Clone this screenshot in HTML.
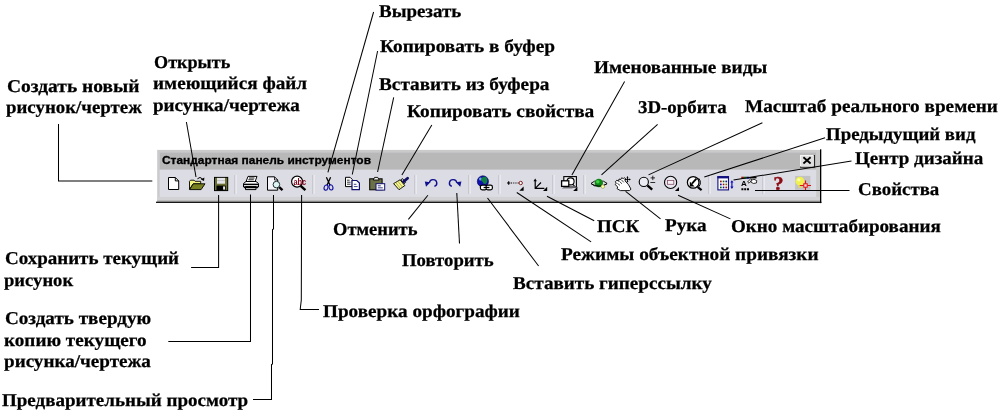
<!DOCTYPE html>
<html lang="ru">
<head>
<meta charset="utf-8">
<title>Стандартная панель инструментов</title>
<style>
html,body{margin:0;padding:0;background:#fff;}
body{width:1002px;height:415px;position:relative;overflow:hidden;}
#wrap{position:absolute;left:0;top:0;width:1002px;height:415px;will-change:transform;}
.l{position:absolute;font-family:"Liberation Serif",serif;font-weight:bold;font-size:18.0px;line-height:21.0px;color:#000;white-space:nowrap;margin:0;transform-origin:0 0;text-rendering:geometricPrecision;-webkit-text-stroke:0.25px #000;}
svg{position:absolute;left:0;top:0;overflow:visible;}
svg text{white-space:pre;}

</style>
</head>
<body>
<div id="wrap">
<svg id="tb" width="1002" height="415" viewBox="0 0 1002 415">
<!-- frame -->
<rect x="157.2" y="149.9" width="663.3" height="52.3" fill="#cacaca"/>
<rect x="159.6" y="152.4" width="656.6" height="47.2" fill="#dcdce4"/>
<rect x="157.2" y="196.8" width="663.3" height="3.6" fill="#d2d2d4"/>
<rect x="157.2" y="200.2" width="663.3" height="1.6" fill="#b8b8b8"/>
<rect x="156" y="201.7" width="665.4" height="1.2" fill="#000"/>
<rect x="820" y="149.3" width="1.3" height="53.8" fill="#000"/>
<!-- title bar -->
<rect x="159.6" y="152.4" width="656.6" height="17.2" fill="#b8b8b8"/>
<text x="162" y="164" font-family="'Liberation Sans',sans-serif" font-weight="bold" font-size="11.3" fill="#000" stroke="#000" stroke-width="0.3" textLength="209" lengthAdjust="spacingAndGlyphs">Стандартная панель инструментов</text>
<!-- close button -->
<rect x="800" y="155" width="14.8" height="12.6" fill="#000"/>
<rect x="800" y="155" width="13.8" height="11.6" fill="#f4f4f4"/>
<rect x="801" y="156" width="12.8" height="10.6" fill="#e0e0e0"/>
<path d="M803.4,157.3l7.2,6.2 M810.6,157.3l-7.2,6.2" stroke="#000" stroke-width="1.8" fill="none"/>
<!-- separators -->
<g stroke-width="1" fill="none">
<path d="M235,175v19 M313,175v19 M415,175v19 M469,175v19 M499,175v19 M553,175v19 M584,175v19 M709,175v19 M763,175v19" stroke="#b4b4bc"/>
<path d="M236,175v19 M314,175v19 M416,175v19 M470,175v19 M500,175v19 M554,175v19 M585,175v19 M710,175v19 M764,175v19" stroke="#f6f6fa"/>
</g>
<!-- 1 new -->
<g stroke="#000" stroke-width="1" fill="#fff">
<path d="M168.5,177.5h6.8l3.4,3.4v8.6h-10.2z"/>
<path d="M175.3,177.5v3.4h3.4" fill="none"/>
</g>
<!-- 2 open -->
<g stroke="#000" stroke-width="0.9">
<path d="M189.5,189.3v-8l1,-1.1h3.6l1,1.1h5.6v2.6h-7.6z" fill="#f4f480"/>
<path d="M189.6,189.6l3.7,-5.8h11.7l-3.9,5.8z" fill="#788020"/>
<path d="M197.4,178.8q2.6,-2.8 5.2,0.2" fill="none" stroke-width="1"/>
<path d="M204.4,177.6l-0.4,3.4l-3.2,-1.4z" fill="#000" stroke="none"/>
</g>
<!-- 3 save -->
<g>
<rect x="214.5" y="177.4" width="13.2" height="13.2" fill="#6c7030" stroke="#000" stroke-width="1"/>
<rect x="217" y="177.9" width="8" height="5.8" fill="#e4e4ea"/>
<path d="M217,180.6h8" stroke="#b8b8c0" stroke-width="0.8"/>
<rect x="216.5" y="185.6" width="9.2" height="5" fill="#000"/>
<rect x="223.1" y="186.4" width="1.9" height="3.2" fill="#e8e8e8"/>
</g>
<!-- 4 print -->
<g stroke="#000" stroke-width="1">
<path d="M246,181.8l2,-5.4h9l-2,5.4z" fill="#fff"/>
<path d="M249,178h5.5 M248.3,179.8h5.5" stroke-width="0.9"/>
<path d="M243.5,187v-3.5l2.5,-2h10l2.5,2v3.5z" fill="#fff"/>
<path d="M243.5,184.4h14.5" stroke-width="1.5"/>
<path d="M245.5,186.6h10.5v3h-10.5z" fill="#e0e0e0"/>
<path d="M244,187.4h14" stroke-width="1.5"/>
</g>
<!-- 5 preview -->
<g stroke="#000" stroke-width="1">
<path d="M267.5,176.8h7l3.2,3.2v10.2h-10.2z" fill="#f4f4fa"/>
<path d="M274.5,176.8v3.2h3.2" fill="none" stroke-width="0.8"/>
<circle cx="276.4" cy="184.6" r="3.3" fill="#dcf4f4" stroke="#203030"/>
<path d="M279.2,187.2l3.3,3" stroke-width="2.4"/>
</g>
<!-- 6 spell -->
<g>
<circle cx="297.1" cy="181.6" r="5.5" fill="#fff" stroke="#000" stroke-width="1.2"/>
<text x="293.4" y="184.5" font-family="'Liberation Sans',sans-serif" font-weight="bold" font-size="8.6" fill="#800018" textLength="12.8" lengthAdjust="spacingAndGlyphs">abc</text>
<path d="M300.6,185.8l4.8,4.4" stroke="#000" stroke-width="2.5" fill="none"/>
</g>
<!-- 7 cut -->
<g fill="none">
<path d="M326.4,177.3l3.6,8 M330.6,177.3l-3.6,8" stroke="#000" stroke-width="1.3"/>
<ellipse cx="326" cy="187.6" rx="1.9" ry="2.6" stroke="#1010a0" stroke-width="1.1" transform="rotate(15 326 187.6)"/>
<ellipse cx="331" cy="187.4" rx="1.9" ry="2.6" stroke="#1010a0" stroke-width="1.1" transform="rotate(-15 331 187.4)"/>
</g>
<!-- 8 copy -->
<g stroke-width="1">
<path d="M345.5,177.3h4.6l2.2,2.2v7.1h-6.8z" fill="#fff" stroke="#000"/>
<path d="M347,180.2h2.6 M347,182.2h3.6 M347,184.2h3.6" stroke="#000" stroke-width="0.8"/>
<path d="M352,180.5h4.8l2.6,2.6v6.6h-7.4z" fill="#fff" stroke="#101070" stroke-width="1.2"/>
<path d="M353.8,184.3h2.6 M353.8,186.6h3.8" stroke="#101070" stroke-width="0.8"/>
</g>
<!-- 9 paste -->
<g stroke-width="1">
<rect x="369.7" y="178.8" width="12.4" height="11" fill="#6c7046" stroke="#000"/>
<path d="M373.2,180l1.4,-2.6h3.2l1.4,2.6z" fill="#f0f0f0" stroke="#000" stroke-width="0.9"/>
<rect x="376" y="183.7" width="8.7" height="6.4" fill="#fff" stroke="#101070"/>
<path d="M377.8,185.8h3 M377.8,187.8h5" stroke="#101070" stroke-width="0.8"/>
</g>
<!-- 10 match properties brush -->
<g stroke="#000" stroke-width="0.9">
<path d="M393.6,183.6l6.5,-3.8l4.7,5.8l-5.8,4.1z" fill="#f4f490"/>
<path d="M395.8,182.6l4.6,5.8 M397.9,181.3l4.6,5.8" stroke="#a0a040" fill="none" stroke-width="0.8"/>
<path d="M400.8,179.8l1.8,-1.2l3,3.6l-1.4,1.6z" fill="#d0d0d0"/>
<path d="M403.6,181.6l4,-3.4" stroke="#101060" stroke-width="2.8" stroke-linecap="round"/>
</g>
<!-- 11 undo -->
<g>
<path d="M429.4,182.8a3.7,3.5 0 1 1 5,3.6" fill="none" stroke="#101090" stroke-width="1.4"/>
<path d="M424.8,181.4l5.6,0.8l-4.4,4.6z" fill="#101090"/>
</g>
<!-- 12 redo -->
<g>
<path d="M456.8,182.8a3.7,3.5 0 1 0 -5,3.6" fill="none" stroke="#101090" stroke-width="1.4"/>
<path d="M461.4,181.4l-5.6,0.8l4.4,4.6z" fill="#101090"/>
</g>
<!-- 13 hyperlink -->
<g>
<circle cx="482.9" cy="181.4" r="5.6" fill="#1010b0" stroke="#000050" stroke-width="0.6"/>
<circle cx="480.6" cy="179" r="1.6" fill="#70a0f0"/>
<path d="M481.5,178q2.5,-2.2 5,-0.6q1.6,2.4 0.4,5q-1.4,2.4 -3.4,1.2q-0.6,-2 -2,-2.6q-0.8,-1.6 0,-3z" fill="#108040"/>
<rect x="480.4" y="185.2" width="6.4" height="4.6" rx="1.8" fill="#fff" stroke="#000" stroke-width="1.2"/>
<rect x="486" y="185.2" width="6.4" height="4.6" rx="1.8" fill="#fff" stroke="#000" stroke-width="1.2"/>
<path d="M483.6,187.5h5.8" stroke="#000" stroke-width="1.3"/>
</g>
<!-- 14 osnap -->
<g>
<path d="M507,183h3.4 M508.7,181.3v3.4" stroke="#000" stroke-width="1.1"/>
<path d="M511,183h8" stroke="#000" stroke-width="1.2" stroke-dasharray="1.1 1.1"/>
<circle cx="520.7" cy="183" r="1.7" fill="#fff" stroke="#802020" stroke-width="1"/>
<path d="M523.6,186.6v4.2h-4.3z" fill="#000"/>
</g>
<!-- 15 ucs -->
<g stroke="#000" fill="none" stroke-width="1.2">
<path d="M535.2,180v8.3h9.2 M535.2,188.3l5.8,-5.8"/>
<path d="M533.5,181.2l1.7,-2.8l1.7,2.8z" fill="#000" stroke="none"/>
<path d="M547.2,186.8v4.1h-4.2z" fill="#000" stroke="none"/>
</g>
<!-- 16 named views -->
<g stroke="#000" stroke-width="1.1">
<rect x="563.8" y="176.6" width="12.6" height="10.4" fill="#f0f0f4"/>
<circle cx="570.6" cy="181.4" r="3.5" fill="#fff"/>
<rect x="561.6" y="180.8" width="7.2" height="5.6" fill="#fff" stroke-width="1.3"/>
<path d="M572.5,184.3l2,1.6" stroke-width="1.2"/>
<path d="M562,188.4h10.5" stroke="#a8a8b0"/>
<path d="M577.4,186.8v4.1h-4.2z" fill="#000" stroke="none"/>
</g>
<!-- 17 3d orbit -->
<g>
<path d="M591,183.4l3.5,-2.2h9l3.6,2.2l-3.6,2.4h-9z" fill="none" stroke="#000" stroke-width="0.9"/>
<circle cx="598.8" cy="183" r="4.2" fill="#108818"/>
<circle cx="597.8" cy="181.8" r="1.8" fill="#40d040"/>
<path d="M591.4,184q7.5,4.2 15.4,0" fill="none" stroke="#000" stroke-width="0.9"/>
<circle cx="602.8" cy="186.6" r="1.8" fill="#ffffa0" stroke="#808040" stroke-width="0.5"/>
</g>
<!-- 18 pan -->
<g stroke="#000" stroke-width="0.9">
<path d="M615.4,181.8l1.4,-1.6l1.8,1l0.4,-2.2l1.8,0.6l0.8,-1.8l1.8,0.8l1,-1l1.4,1.6l-0.8,1.6l3.6,4l2.4,4.4l-1.6,1.4h-9l-3.4,-2l0.8,-1.6l-2.6,-2.4l1,-1.4z" fill="#fff"/>
<path d="M617.4,183.4l2.6,2 M619.4,181.4l2.6,2.4 M621.6,180l2.2,2.4" fill="none" stroke-width="0.7"/>
<path d="M627.5,176.6v5.6 M624.7,179.4h5.6" stroke-width="0.9"/>
<path d="M626.5,177.9l1,-1.7l1,1.7z M626.5,180.9l1,1.7l1,-1.7z M626,178.4l-1.7,1l1.7,1z M629,178.4l1.7,1l-1.7,1z" fill="#000" stroke="none"/>
</g>
<!-- 19 zoom realtime -->
<g stroke="#000" fill="none">
<circle cx="643.8" cy="181.9" r="4.6" fill="#ecedf4" stroke-width="1.1"/>
<path d="M647.4,185.4l4.8,4.2" stroke-width="2.4"/>
<path d="M650.6,177.9h4.4 M652.8,175.7v4.4 M650.4,182.5h4.8" stroke-width="0.8"/>
</g>
<!-- 20 zoom window -->
<g stroke="#000" fill="none" stroke-width="1.1">
<circle cx="670.6" cy="182.4" r="6.1" fill="#e8e8f0"/>
<rect x="667.4" y="180.5" width="6.4" height="3.8" fill="#f4f0f4" stroke="#885068" stroke-width="0.8"/>
<path d="M679,186.9v4h-4.1z" fill="#000" stroke="none"/>
</g>
<!-- 21 zoom previous -->
<g stroke="#000" fill="none">
<circle cx="693.2" cy="182.4" r="5.8" stroke-width="1.25" fill="#fff"/>
<path d="M698.6,178.2q3.6,4.2 0.2,8.6" stroke-width="1"/>
<path d="M696.4,178.6l-4.4,5" stroke-width="1.8"/>
<path d="M689.8,181.6v5h4.8z" fill="#000" stroke="none"/>
<path d="M697.6,187l4,3.2" stroke-width="2.2"/>
</g>
<!-- 22 design center -->
<g>
<rect x="717.9" y="176.7" width="10.6" height="13.2" fill="#fff" stroke="#101080" stroke-width="1.1"/>
<rect x="717.4" y="176.2" width="11.6" height="2.2" fill="#101080"/>
<g>
<rect x="720" y="180.6" width="1.7" height="1.7" fill="#a01010"/><rect x="722.7" y="180.6" width="1.7" height="1.7" fill="#106010"/><rect x="725.4" y="180.6" width="1.7" height="1.7" fill="#1010a0"/>
<rect x="720" y="183.6" width="1.7" height="1.7" fill="#1010a0"/><rect x="722.7" y="183.6" width="1.7" height="1.7" fill="#a01010"/><rect x="725.4" y="183.6" width="1.7" height="1.7" fill="#707010"/>
<rect x="720" y="186.6" width="1.7" height="1.7" fill="#106010"/><rect x="722.7" y="186.6" width="1.7" height="1.7" fill="#1010a0"/><rect x="725.4" y="186.6" width="1.7" height="1.7" fill="#a01010"/>
</g>
<path d="M731.9,181.4v6.4" stroke="#1010c0" stroke-width="1.2"/>
<path d="M730.3,182.6l1.6,-2.4l1.6,2.4z M730.3,186.6l1.6,2.4l1.6,-2.4z" fill="#1010c0"/>
</g>
<!-- 23 properties -->
<g>
<rect x="741.3" y="176.7" width="2.6" height="2.1" fill="#a01010"/><rect x="743.9" y="176.7" width="2.6" height="2.1" fill="#108010"/><rect x="746.5" y="176.7" width="2.6" height="2.1" fill="#1010a0"/>
<rect x="749.1" y="177" width="7.4" height="1.4" fill="#000"/>
<text x="741" y="186.2" font-family="'Liberation Sans',sans-serif" font-weight="bold" font-size="8" fill="#000">A</text>
<path d="M747.6,182l3,-3.2l1.4,1.2l-3,3.2z" fill="#fff" stroke="#000" stroke-width="0.8"/>
<path d="M751,180.4q3,-2.4 5.8,0.2l-0.4,2.4q-3.2,1.2 -5.2,-0.6z" fill="#fff" stroke="#000" stroke-width="0.8"/>
<path d="M741.4,189.2h2 M744.2,189.2h2 M747,189.2h2" stroke="#000" stroke-width="2"/>
</g>
<!-- 24 help -->
<text x="773.4" y="189.9" font-family="'Liberation Serif',serif" font-weight="bold" font-size="18.5" fill="#8c0a14" stroke="#8c0a14" stroke-width="0.5" textLength="10" lengthAdjust="spacingAndGlyphs">?</text>
<!-- 25 active assistance -->
<g>
<rect x="795.1" y="175.9" width="15.3" height="13.9" fill="#c2c2c4"/>
<circle cx="799.9" cy="181.2" r="4.4" fill="#f0f050"/>
<circle cx="798.8" cy="179.8" r="1.6" fill="#ffffb0"/>
<rect x="798.2" y="185" width="3.4" height="2.8" fill="#e0d860"/>
<path d="M805.5,180.6v9.4 M799.8,185.5h11.2" stroke="#e01010" stroke-width="1.1"/>
<rect x="803.8" y="183.8" width="3.4" height="3.4" fill="#ffd8d8" stroke="#e01010" stroke-width="1"/>
</g>
</svg>

<svg id="lines" width="1002" height="415" viewBox="0 0 1002 415" fill="none" stroke="#000" stroke-width="1.02">
<polyline points="58.5,124 58.5,181 152.3,181"/>
<line x1="186.4" y1="122" x2="196" y2="177"/>
<line x1="373.6" y1="12" x2="327.9" y2="172.3"/>
<line x1="377.6" y1="51" x2="352.3" y2="174.5"/>
<line x1="393.7" y1="97.3" x2="377.6" y2="172"/>
<line x1="431.8" y1="125" x2="401.9" y2="174.9"/>
<line x1="624.6" y1="81.4" x2="571.9" y2="174.9"/>
<line x1="657.6" y1="124.3" x2="601.5" y2="174.9"/>
<line x1="762.4" y1="122.7" x2="648.5" y2="174.9"/>
<line x1="825.1" y1="137.7" x2="704.3" y2="177.1"/>
<line x1="851.5" y1="161" x2="733.5" y2="180"/>
<line x1="849.5" y1="190.5" x2="755" y2="190.5"/>
<line x1="408.4" y1="219.4" x2="427.9" y2="195.3"/>
<line x1="459.5" y1="243.5" x2="456.8" y2="193"/>
<line x1="487.5" y1="198" x2="538.6" y2="266"/>
<line x1="516.8" y1="192.5" x2="591.1" y2="241.8"/>
<line x1="547" y1="196.2" x2="594.2" y2="220.8"/>
<line x1="625.6" y1="191.3" x2="660.5" y2="218.9"/>
<line x1="678.1" y1="195.3" x2="730.4" y2="218.9"/>
<polyline points="218.6,195 218.6,267.5 191.1,267.5"/>
<polyline points="250.5,194.5 250.5,341.5 168.3,341.5"/>
<polyline points="273.5,195 273.5,229 272.5,229.5 272.5,364 271.5,364.5 271.5,399.5 253,399.5"/>
<polyline points="301.6,195 301.3,300 300.2,309.5 319,309.5"/>
</svg>

<div class="l" style="left:6.90px;top:76px;transform:scaleX(1.0810)">Создать новый</div>
<div class="l" style="left:6.30px;top:97px;transform:scaleX(1.0473)">рисунок/чертеж</div>
<div class="l" style="left:153.60px;top:52px;transform:scaleX(1.0089)">Открыть</div>
<div class="l" style="left:153.20px;top:73px;transform:scaleX(1.0667)">имеющийся файл</div>
<div class="l" style="left:152.80px;top:95px;transform:scaleX(1.0607)">рисунка/чертежа</div>
<div class="l" style="left:379.10px;top:1px;transform:scaleX(1.0525)">Вырезать</div>
<div class="l" style="left:379.70px;top:36px;transform:scaleX(1.0729)">Копировать в буфер</div>
<div class="l" style="left:379.00px;top:74px;transform:scaleX(1.0694)">Вставить из буфера</div>
<div class="l" style="left:406.70px;top:101px;transform:scaleX(1.0759)">Копировать свойства</div>
<div class="l" style="left:594.20px;top:57px;transform:scaleX(1.0673)">Именованные виды</div>
<div class="l" style="left:638.00px;top:97px;transform:scaleX(1.0493)">3D-орбита</div>
<div class="l" style="left:744.70px;top:96px;transform:scaleX(1.0679)">Масштаб реального времени</div>
<div class="l" style="left:826.30px;top:124px;transform:scaleX(1.0473)">Предыдущий вид</div>
<div class="l" style="left:854.50px;top:148px;transform:scaleX(1.0570)">Центр дизайна</div>
<div class="l" style="left:858.10px;top:179px;transform:scaleX(1.0488)">Свойства</div>
<div class="l" style="left:333.00px;top:219px;transform:scaleX(1.0269)">Отменить</div>
<div class="l" style="left:402.10px;top:250px;transform:scaleX(1.0400)">Повторить</div>
<div class="l" style="left:596.80px;top:216px;transform:scaleX(1.0575)">ПСК</div>
<div class="l" style="left:665.00px;top:215px;transform:scaleX(1.0641)">Рука</div>
<div class="l" style="left:730.50px;top:216px;transform:scaleX(1.0610)">Окно масштабирования</div>
<div class="l" style="left:561.00px;top:244px;transform:scaleX(1.0714)">Режимы объектной привязки</div>
<div class="l" style="left:513.40px;top:273px;transform:scaleX(1.0627)">Вставить гиперссылку</div>
<div class="l" style="left:323.40px;top:301px;transform:scaleX(1.0659)">Проверка орфографии</div>
<div class="l" style="left:4.50px;top:248px;transform:scaleX(1.0542)">Сохранить текущий</div>
<div class="l" style="left:4.00px;top:270px;transform:scaleX(1.0340)">рисунок</div>
<div class="l" style="left:4.50px;top:308px;transform:scaleX(1.0621)">Создать твердую</div>
<div class="l" style="left:4.00px;top:330px;transform:scaleX(1.0643)">копию текущего</div>
<div class="l" style="left:4.00px;top:351px;transform:scaleX(1.0614)">рисунка/чертежа</div>
<div class="l" style="left:2.10px;top:390px;transform:scaleX(1.0565)">Предварительный просмотр</div>
</div>
</body>
</html>
